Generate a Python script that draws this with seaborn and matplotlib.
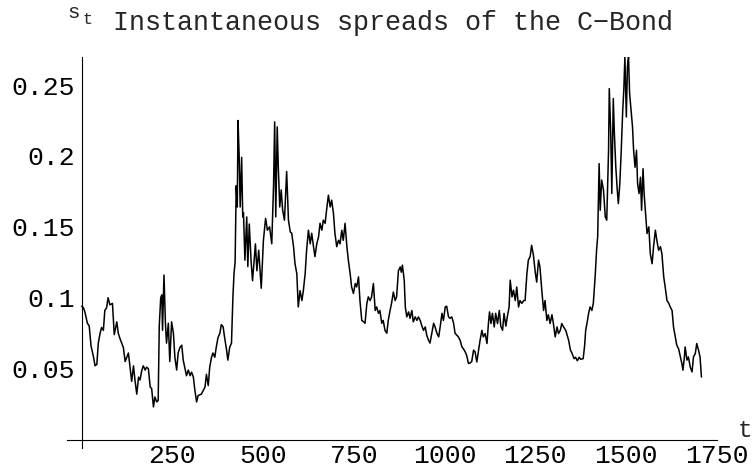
import numpy as np
import matplotlib
matplotlib.use("Agg")
import matplotlib.pyplot as plt
import seaborn as sns

# --- DATA ---
t_vals = [0, 5, 9, 16, 21, 26, 33, 37, 42, 46, 51, 55, 60, 64, 69, 73, 78, 85, 90, 97,
          101, 106, 115, 120, 129, 133, 138, 143, 147, 152, 157, 161, 166, 170, 175, 179,
          184, 189, 193, 198, 202, 207, 211, 214, 218, 221, 223, 227, 231, 234, 239, 243,
          248, 253, 257, 262, 266, 271, 276, 280, 285, 289, 294, 299, 303, 308, 312, 317,
          321, 330, 340, 344, 349, 353, 358, 362, 367, 371, 376, 381, 385, 390, 394, 399,
          403, 408, 413, 417, 420, 423, 426, 429, 431, 434, 437, 441, 444, 446, 450, 455,
          458, 462, 467, 471, 479, 483, 488, 495, 501, 507, 512, 518, 524, 529, 532, 535,
          539, 542, 546, 550, 554, 559, 565, 570, 575, 579, 584, 588, 593, 597, 602, 607,
          611, 616, 620, 625, 630, 634, 639, 643, 648, 653, 657, 662, 666, 671, 675, 680,
          685, 689, 694, 698, 703, 708, 712, 717, 721, 726, 731, 735, 740, 744, 749, 754,
          758, 763, 767, 772, 777, 781, 786, 790, 795, 799, 804, 809, 813, 818, 822, 827,
          831, 836, 841, 845, 850, 854, 859, 864, 868, 873, 878, 881, 884, 889, 892, 896,
          901, 905, 910, 914, 919, 924, 928, 933, 937, 942, 947, 951, 956, 960, 965, 970,
          974, 979, 984, 988, 993, 997, 1002, 1006, 1011, 1015, 1020, 1025, 1029, 1034,
          1038, 1043, 1048, 1052, 1057, 1061, 1066, 1070, 1075, 1080, 1084, 1089, 1094,
          1098, 1103, 1107, 1112, 1117, 1121, 1124, 1128, 1132, 1137, 1141, 1146, 1151,
          1155, 1160, 1164, 1169, 1174, 1178, 1181, 1186, 1190, 1195, 1199, 1204, 1208,
          1213, 1218, 1222, 1227, 1231, 1236, 1240, 1245, 1250, 1254, 1259, 1263, 1268,
          1273, 1277, 1282, 1286, 1291, 1296, 1300, 1305, 1310, 1314, 1319, 1323, 1328,
          1334, 1342, 1347, 1351, 1357, 1361, 1366, 1371, 1375, 1382, 1386, 1389, 1393,
          1397, 1401, 1406, 1410, 1415, 1419, 1422, 1426, 1429, 1433, 1438, 1443, 1447,
          1452, 1454, 1458, 1461, 1465, 1468, 1472, 1476, 1479, 1483, 1487, 1491, 1494,
          1497, 1501, 1504, 1507, 1510, 1514, 1518, 1521, 1525, 1529, 1532, 1536, 1540,
          1543, 1547, 1550, 1554, 1558, 1563, 1567, 1572, 1576, 1581, 1585, 1590, 1595,
          1599, 1604, 1608, 1613, 1618, 1622, 1627, 1631, 1636, 1640, 1645, 1650, 1654,
          1657, 1661, 1663, 1668, 1672, 1677, 1682, 1686, 1691, 1695, 1700, 1704, 1708]

spread_vals = [0.094, 0.093, 0.090, 0.082, 0.080, 0.066, 0.058, 0.052, 0.053, 0.068,
               0.075, 0.079, 0.077, 0.091, 0.093, 0.100, 0.095, 0.096, 0.074, 0.083,
               0.075, 0.071, 0.065, 0.055, 0.061, 0.052, 0.041, 0.052, 0.042, 0.032,
               0.044, 0.042, 0.049, 0.052, 0.049, 0.051, 0.050, 0.037, 0.036, 0.023,
               0.030, 0.0265, 0.0275, 0.080, 0.100, 0.102, 0.077, 0.116, 0.082, 0.068,
               0.082, 0.055, 0.083, 0.075, 0.058, 0.049, 0.061, 0.065, 0.0665, 0.056,
               0.050, 0.045, 0.049, 0.045, 0.0475, 0.044, 0.035, 0.0265, 0.031, 0.032,
               0.037, 0.046, 0.038, 0.051, 0.058, 0.061, 0.058, 0.065, 0.072, 0.075,
               0.081, 0.0795, 0.072, 0.064, 0.056, 0.065, 0.068, 0.101, 0.117, 0.125,
               0.179, 0.164, 0.225, 0.2015, 0.164, 0.199, 0.157, 0.160, 0.1265, 0.157,
               0.122, 0.152, 0.126, 0.112, 0.138, 0.119, 0.1335, 0.1067, 0.1405, 0.156,
               0.1476, 0.150, 0.138, 0.180, 0.224, 0.157, 0.2205, 0.192, 0.164, 0.176,
               0.1617, 0.1547, 0.189, 0.1547, 0.1464, 0.1455, 0.136, 0.124, 0.117, 0.0935,
               0.105, 0.098, 0.105, 0.117, 0.1335, 0.1476, 0.138, 0.1455, 0.136, 0.129,
               0.138, 0.143, 0.1525, 0.1476, 0.1547, 0.1525, 0.1617, 0.1723, 0.164, 0.1688,
               0.1595, 0.1455, 0.136, 0.1405, 0.138, 0.1476, 0.1405, 0.1525, 0.136, 0.1265,
               0.117, 0.1076, 0.103, 0.110, 0.1076, 0.1147, 0.098, 0.084, 0.083, 0.082,
               0.096, 0.1006, 0.098, 0.1006, 0.110, 0.091, 0.0935, 0.089, 0.091, 0.082,
               0.084, 0.077, 0.075, 0.084, 0.091, 0.096, 0.104, 0.098, 0.1006, 0.119,
               0.1217, 0.118, 0.123, 0.1124, 0.0935, 0.0865, 0.090, 0.0855, 0.091, 0.083,
               0.0865, 0.084, 0.0865, 0.084, 0.0806, 0.077, 0.0794, 0.0735, 0.070, 0.068,
               0.075, 0.082, 0.0794, 0.075, 0.0724, 0.0794, 0.089, 0.084, 0.0935, 0.094,
               0.0865, 0.0855, 0.0865, 0.082, 0.075, 0.0735, 0.0724, 0.070, 0.0653, 0.064,
               0.0618, 0.0594, 0.0536, 0.054, 0.055, 0.063, 0.062, 0.0547, 0.063, 0.070,
               0.077, 0.0724, 0.0747, 0.0677, 0.0818, 0.090, 0.0818, 0.089, 0.0794, 0.089,
               0.0818, 0.091, 0.080, 0.077, 0.089, 0.080, 0.088, 0.0935, 0.1124, 0.1006,
               0.1053, 0.098, 0.1076, 0.0935, 0.098, 0.096, 0.098, 0.098, 0.117, 0.1265,
               0.129, 0.137, 0.130, 0.118, 0.111, 0.1265, 0.1217, 0.1053, 0.091, 0.098,
               0.084, 0.088, 0.0818, 0.088, 0.0818, 0.0724, 0.0794, 0.0747, 0.077, 0.0818,
               0.0794, 0.077, 0.070, 0.063, 0.061, 0.057, 0.058, 0.0556, 0.058, 0.0566,
               0.057, 0.066, 0.077, 0.0826, 0.089, 0.0935, 0.091, 0.096, 0.1147, 0.1335,
               0.143, 0.1946, 0.1617, 0.183, 0.176, 0.157, 0.1547, 0.204, 0.2475, 0.216,
               0.1735, 0.2405, 0.216, 0.192, 0.176, 0.1664, 0.1805, 0.204, 0.232, 0.2463,
               0.27, 0.2275, 0.263, 0.27, 0.244, 0.232, 0.2205, 0.204, 0.192, 0.204,
               0.1805, 0.1735, 0.185, 0.1617, 0.191, 0.1735, 0.1594, 0.1453, 0.150, 0.131,
               0.124, 0.136, 0.1476, 0.1405, 0.1335, 0.136, 0.131, 0.1147, 0.1076, 0.098,
               0.096, 0.0935, 0.091, 0.0794, 0.0724, 0.0665, 0.064, 0.0583, 0.0536, 0.0489,
               0.0583, 0.0653, 0.056, 0.0583, 0.0512, 0.0477, 0.0583, 0.0606, 0.0677, 0.063,
               0.0583, 0.0441]

x_ticks = [250, 500, 750, 1000, 1250, 1500, 1750]
x_labels = ["250", "500", "750", "1000", "1250", "1500", "1750"]
y_ticks = [0.05, 0.1, 0.15, 0.2, 0.25]
y_labels = ["0.05", "0.1", "0.15", "0.2", "0.25"]

title = "Instantaneous spreads of the C\u2212Bond"

# --- ESTILO ---
sns.set_style("white")
plt.rcParams["font.family"] = ["Liberation Mono", "DejaVu Sans Mono"]
FS = 19

fig = plt.figure(figsize=(7.53, 4.72), dpi=100)
ax = fig.add_axes([0.0886, 0.0508, 0.8632, 0.8291])

sns.lineplot(x=t_vals, y=spread_vals, color="black", lw=1.1,
             estimator=None, sort=False, ax=ax)

ax.set_xlim(-41, 1750)
ax.set_ylim(-0.006, 0.27)

# ejes tipo Mathematica: cruzan en el origen
for side in ["top", "right"]:
    ax.spines[side].set_visible(False)
ax.spines["left"].set_position(("data", 0))
ax.spines["bottom"].set_position(("data", 0))
for side in ["left", "bottom"]:
    ax.spines[side].set_color("black")
    ax.spines[side].set_linewidth(0.8)

ax.set_xticks(x_ticks)
ax.set_xticklabels(x_labels)
ax.set_xticks(np.arange(50, 1750, 50), minor=True)
ax.set_yticks(y_ticks)
ax.set_yticklabels(y_labels)
ax.set_yticks(np.arange(0.01, 0.275, 0.01), minor=True)

ax.tick_params(axis="both", which="both", direction="in", color="black",
               width=0.8, labelsize=FS, labelcolor="black")
ax.tick_params(axis="both", which="major", length=4)
ax.tick_params(axis="both", which="minor", length=2.3)
ax.tick_params(axis="x", which="major", pad=3)
ax.tick_params(axis="y", which="major", pad=5)

# etiquetas de ejes y titulo
fig.text(67 / 753, 1 - 18.5 / 472, "s", fontsize=15, ha="left", va="baseline")
fig.text(82 / 753, 1 - 24.5 / 472, "t", fontsize=12, ha="left", va="baseline")
fig.text(113 / 753, 1 - 30.5 / 472, title, fontsize=19.3, ha="left", va="baseline")
fig.text(752 / 753, 1 - 437 / 472, "t", fontsize=17.5, ha="right", va="baseline")

fig.savefig("out.png", dpi=100)
plt.close(fig)
